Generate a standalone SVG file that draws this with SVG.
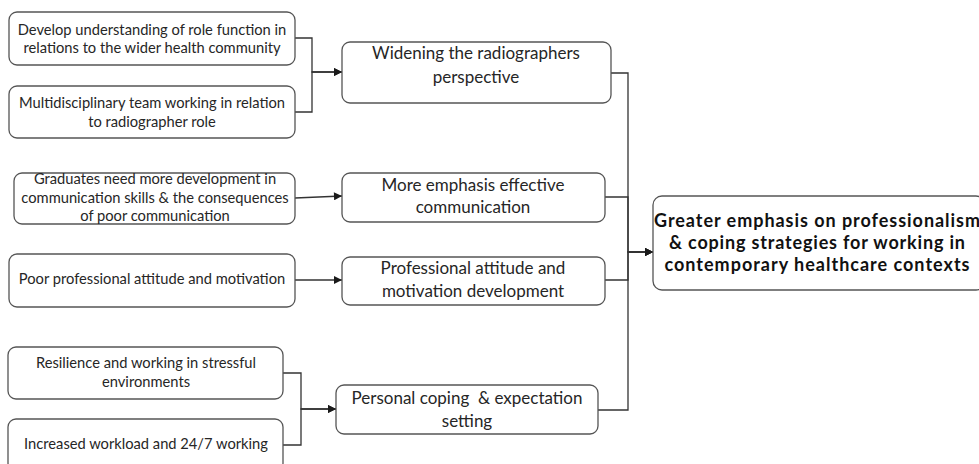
<svg xmlns="http://www.w3.org/2000/svg" width="979" height="464" viewBox="0 0 979 464">
<defs>
<marker id="arr" viewBox="0 0 10 10" refX="10" refY="5" markerWidth="9" markerHeight="8" markerUnits="userSpaceOnUse" orient="auto">
<path d="M0,0 L10,5 L0,10 Z" fill="#1a1a1a"/>
</marker>
<style>
.box{fill:#fff;stroke:#555;stroke-width:1.3}
.t{font-family:Lato,"Liberation Sans",sans-serif;fill:#262626;text-anchor:middle}
.s{font-size:14.7px}
.m{font-size:17px}
.b{font-size:18px;font-weight:bold;fill:#111}
.c{fill:none;stroke:#333;stroke-width:1.3}
.a{marker-end:url(#arr)}
</style>
</defs>
<rect width="979" height="464" fill="#fff"/>
<g id="connectors">
<path class="c a" d="M295,38 H312 V72 H342"/>
<path class="c a" d="M295,112 H312 V72 H342"/>
<path class="c a" d="M295,198 L342,196"/>
<path class="c a" d="M295,280 H342"/>
<path class="c a" d="M283,373 H301 V409 H336"/>
<path class="c a" d="M283,445 H301 V409 H336"/>
<path class="c a" d="M611,73 H628 V252 H653"/>
<path class="c a" d="M605,197 H628 V252 H653"/>
<path class="c a" d="M605,280 H628 V252 H653"/>
<path class="c a" d="M598,410 H628 V252 H653"/>
</g>
<g id="n1">
<rect class="box" x="9" y="12" width="286" height="53" rx="8"/>
<text class="t s" x="152" y="35">Develop understanding of role function in</text>
<text class="t s" x="152" y="53">relations to the wider health community</text>
</g>
<g id="n2">
<rect class="box" x="9" y="86" width="286" height="52" rx="8"/>
<text class="t s" x="152" y="108">Multidisciplinary team working in relation</text>
<text class="t s" x="152" y="127">to radiographer role</text>
</g>
<g id="n3">
<rect class="box" x="14" y="173" width="281" height="51" rx="8"/>
<text class="t s" x="155" y="184">Graduates need more development in</text>
<text class="t s" x="155" y="203">communication skills &amp; the consequences</text>
<text class="t s" x="155" y="221">of poor communication</text>
</g>
<g id="n4">
<rect class="box" x="9" y="254" width="286" height="53" rx="8"/>
<text class="t s" x="152" y="284">Poor professional attitude and motivation</text>
</g>
<g id="n5">
<rect class="box" x="8" y="347" width="275" height="52" rx="8"/>
<text class="t s" x="146" y="368">Resilience and working in stressful</text>
<text class="t s" x="146" y="387">environments</text>
</g>
<g id="n6">
<rect class="box" x="8" y="419" width="275" height="52" rx="8"/>
<text class="t s" x="146" y="449">Increased workload and 24/7 working</text>
</g>
<g id="n7">
<rect class="box" x="342" y="42" width="269" height="61" rx="8"/>
<text class="t m" x="476" y="59">Widening the radiographers</text>
<text class="t m" x="476" y="83">perspective</text>
</g>
<g id="n8">
<rect class="box" x="342" y="173" width="263" height="49" rx="8"/>
<text class="t m" x="473" y="191">More emphasis effective</text>
<text class="t m" x="473" y="213">communication</text>
</g>
<g id="n9">
<rect class="box" x="342" y="257" width="263" height="48" rx="8"/>
<text class="t m" x="473" y="274">Professional attitude and</text>
<text class="t m" x="473" y="297">motivation development</text>
</g>
<g id="n10">
<rect class="box" x="336" y="385" width="262" height="49" rx="8"/>
<text class="t m" x="467" y="404">Personal coping&#160; &amp; expectation</text>
<text class="t m" x="467" y="427">setting</text>
</g>
<g id="n11">
<rect class="box" x="653" y="196" width="332" height="94" rx="9"/>
<text class="t b" x="817" y="227" textLength="326">Greater emphasis on professionalism</text>
<text class="t b" x="817" y="249" textLength="296">&amp; coping strategies for working in</text>
<text class="t b" x="817" y="271" textLength="305">contemporary healthcare contexts</text>
</g>
</svg>
